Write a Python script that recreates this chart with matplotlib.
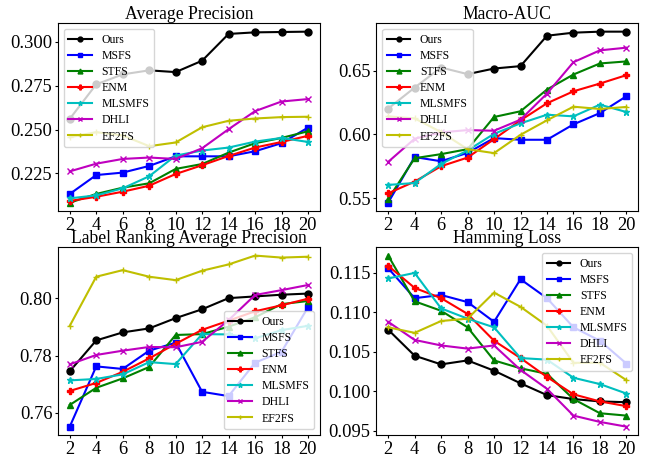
import matplotlib
matplotlib.use('Agg')
import matplotlib.pyplot as plt
from matplotlib.ticker import FormatStrFormatter

# number of selected features (x axis)
x = [2, 4, 6, 8, 10, 12, 14, 16, 18, 20]

methods = ['Ours', 'MSFS', 'STFS', 'ENM', 'MLSMFS', 'DHLI', 'EF2FS']
styles = ['k-o', 'b-s', 'g-^', 'r-P', 'c-*', 'm-x', 'y-+']

# Average Precision
ap_ours = [0.2561, 0.2758, 0.2815, 0.2838, 0.2828, 0.2893, 0.3046, 0.3055, 0.3057, 0.3059]
ap_msfs = [0.2132, 0.2240, 0.2254, 0.2292, 0.2347, 0.2347, 0.2347, 0.2376, 0.2422, 0.2511]
ap_stfs = [0.2082, 0.2132, 0.2168, 0.2193, 0.2275, 0.2303, 0.2368, 0.2422, 0.2452, 0.2490]
ap_enm = [0.2092, 0.2116, 0.2145, 0.2179, 0.2246, 0.2296, 0.2349, 0.2397, 0.2429, 0.2464]
ap_mlsmfs = [0.2107, 0.2124, 0.2164, 0.2233, 0.2351, 0.2380, 0.2397, 0.2431, 0.2452, 0.2429]
ap_dhli = [0.2261, 0.2305, 0.2332, 0.2340, 0.2332, 0.2393, 0.2502, 0.2605, 0.2660, 0.2674]
ap_ef2fs = [0.2456, 0.2485, 0.2466, 0.2405, 0.2426, 0.2513, 0.2550, 0.2563, 0.2571, 0.2573]
ap_ticks = [0.225, 0.250, 0.275, 0.300]

# Macro-AUC
auc_ours = [0.6203, 0.6368, 0.6526, 0.6474, 0.6518, 0.6537, 0.6776, 0.6800, 0.6808, 0.6808]
auc_msfs = [0.5463, 0.5822, 0.5789, 0.5855, 0.5971, 0.5958, 0.5958, 0.6079, 0.6168, 0.6300]
auc_stfs = [0.5492, 0.5813, 0.5845, 0.5884, 0.6137, 0.6182, 0.6353, 0.6471, 0.6558, 0.6574]
auc_enm = [0.5537, 0.5629, 0.5750, 0.5818, 0.5963, 0.6111, 0.6245, 0.6339, 0.6400, 0.6466]
auc_mlsmfs = [0.5603, 0.5618, 0.5768, 0.5874, 0.6005, 0.6087, 0.6155, 0.6142, 0.6234, 0.6176]
auc_dhli = [0.5784, 0.5966, 0.6016, 0.6034, 0.6029, 0.6116, 0.6321, 0.6568, 0.6661, 0.6682]
auc_ef2fs = [0.6142, 0.6126, 0.6018, 0.5884, 0.5853, 0.5997, 0.6111, 0.6218, 0.6200, 0.6216]
auc_ticks = [0.55, 0.60, 0.65]

# Label Ranking Average Precision
lrap_ours = [0.7745, 0.7853, 0.7881, 0.7895, 0.7931, 0.7962, 0.8001, 0.8007, 0.8013, 0.8017]
lrap_msfs = [0.7551, 0.7762, 0.7753, 0.7817, 0.7845, 0.7673, 0.7658, 0.7775, 0.7813, 0.7969]
lrap_stfs = [0.7627, 0.7687, 0.7720, 0.7760, 0.7872, 0.7875, 0.7901, 0.7934, 0.7980, 0.7991]
lrap_enm = [0.7676, 0.7704, 0.7743, 0.7790, 0.7841, 0.7890, 0.7922, 0.7955, 0.7976, 0.7999]
lrap_mlsmfs = [0.7713, 0.7718, 0.7734, 0.7777, 0.7770, 0.7875, 0.7874, 0.7860, 0.7889, 0.7904]
lrap_dhli = [0.7769, 0.7802, 0.7817, 0.7830, 0.7829, 0.7848, 0.7924, 0.8012, 0.8029, 0.8047]
lrap_ef2fs = [0.7904, 0.8076, 0.8099, 0.8076, 0.8064, 0.8097, 0.8119, 0.8150, 0.8143, 0.8146]
lrap_ticks = [0.76, 0.78, 0.80]

# Hamming Loss
hl_ours = [0.1078, 0.1045, 0.1034, 0.1039, 0.1026, 0.1010, 0.0995, 0.0990, 0.0987, 0.0986]
hl_msfs = [0.1156, 0.1118, 0.1122, 0.1113, 0.1088, 0.1142, 0.1118, 0.1081, 0.1064, 0.1035]
hl_stfs = [0.1172, 0.1114, 0.1102, 0.1081, 0.1039, 0.1029, 0.1022, 0.0990, 0.0972, 0.0969]
hl_enm = [0.1159, 0.1131, 0.1118, 0.1098, 0.1064, 0.1042, 0.1018, 0.0996, 0.0987, 0.0981]
hl_mlsmfs = [0.1143, 0.1150, 0.1105, 0.1092, 0.1081, 0.1042, 0.1040, 0.1017, 0.1009, 0.0997]
hl_dhli = [0.1088, 0.1065, 0.1058, 0.1054, 0.1058, 0.1027, 0.1003, 0.0969, 0.0961, 0.0955]
hl_ef2fs = [0.1081, 0.1074, 0.1089, 0.1092, 0.1125, 0.1107, 0.1083, 0.1036, 0.1036, 0.1014]
hl_ticks = [0.095, 0.100, 0.105, 0.110, 0.115]

panels = [
    ('Average Precision', [ap_ours, ap_msfs, ap_stfs, ap_enm, ap_mlsmfs, ap_dhli, ap_ef2fs],
     ap_ticks, '%.3f', 'upper left'),
    ('Macro-AUC', [auc_ours, auc_msfs, auc_stfs, auc_enm, auc_mlsmfs, auc_dhli, auc_ef2fs],
     auc_ticks, '%.2f', 'upper left'),
    ('Label Ranking Average Precision', [lrap_ours, lrap_msfs, lrap_stfs, lrap_enm, lrap_mlsmfs, lrap_dhli, lrap_ef2fs],
     lrap_ticks, '%.2f', 'lower right'),
    ('Hamming Loss', [hl_ours, hl_msfs, hl_stfs, hl_enm, hl_mlsmfs, hl_dhli, hl_ef2fs],
     hl_ticks, '%.3f', 'upper right'),
]

plt.rcParams['font.family'] = 'Liberation Serif'

fig, axes = plt.subplots(2, 2, figsize=(6.5, 4.62), dpi=100)
fig.subplots_adjust(left=0.089, right=0.982, top=0.950, bottom=0.058,
                    wspace=0.215, hspace=0.19)

for ax, (title, series, yticks, fmt, loc) in zip(axes.flat, panels):
    for name, st, ys in zip(methods, styles, series):
        ax.plot(x, ys, st, label=name, markersize=5, linewidth=1.5)
    ax.set_title(title, fontsize=12.7, pad=1.5)
    ax.set_xticks(x)
    ax.set_yticks(yticks)
    ax.yaxis.set_major_formatter(FormatStrFormatter(fmt))
    ax.tick_params(labelsize=13.3, length=2.5, pad=1.5)
    ax.legend(loc=loc, fontsize=8.5, markerscale=0.7, labelspacing=0.35)

fig.savefig('out.png', dpi=100)
plt.close(fig)
